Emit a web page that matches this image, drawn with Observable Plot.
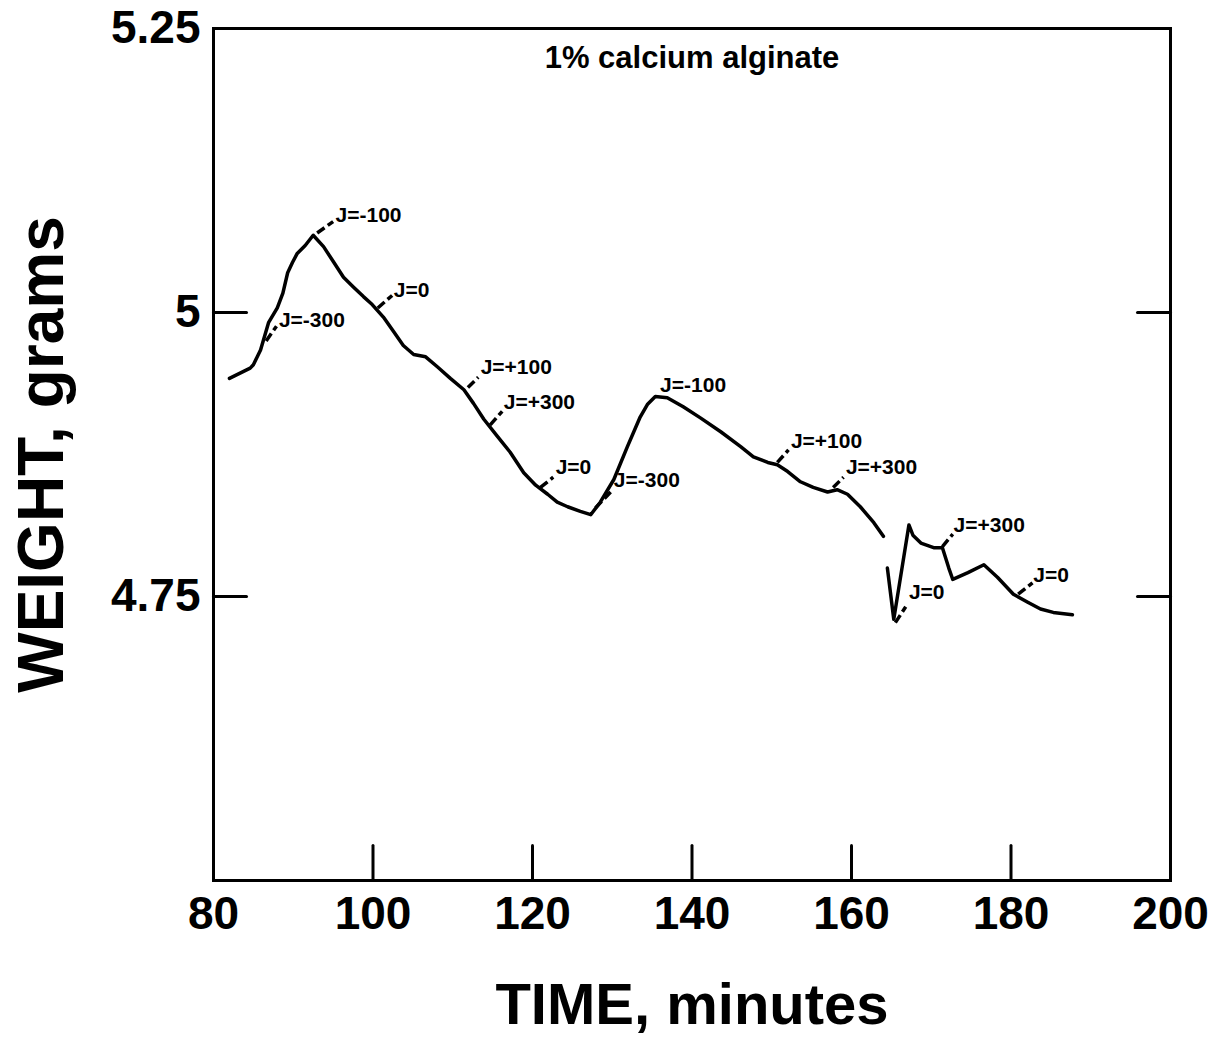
<!DOCTYPE html>
<html>
<head>
<meta charset="utf-8">
<script src="https://cdn.jsdelivr.net/npm/d3@7"></script>
<script src="https://cdn.jsdelivr.net/npm/@observablehq/plot@0.6"></script>
<style>
  html, body { margin: 0; padding: 0; background: #fff; }
  svg { display: block; }
</style>
</head>
<body>
<div id="chart"></div>
<script>
// ---- data ----
const seg1Time = [82.0, 84.6, 85.0, 85.9, 86.9, 88.0, 88.7, 89.3, 89.9, 90.5, 91.5, 92.5, 93.8, 95.1, 96.3, 97.6, 98.8, 99.9, 101.3, 102.6, 103.8, 105.1, 106.6, 108.1, 109.7, 111.4, 112.6, 113.9, 115.6, 117.2, 118.9, 120.4, 121.9, 123.1, 124.4, 126.0, 127.3, 128.5, 130.2, 131.9, 133.5, 134.4, 135.4, 136.9, 138.9, 141.1, 143.6, 146.1, 147.7, 149.5, 150.7, 152.0, 153.6, 155.2, 157.0, 158.2, 159.5, 161.1, 162.8, 164.0];
const seg1Weight = [4.942, 4.951, 4.954, 4.967, 4.991, 5.004, 5.017, 5.035, 5.044, 5.052, 5.059, 5.068, 5.058, 5.044, 5.031, 5.022, 5.014, 5.007, 4.996, 4.983, 4.971, 4.963, 4.961, 4.952, 4.942, 4.932, 4.920, 4.906, 4.891, 4.877, 4.859, 4.848, 4.840, 4.833, 4.829, 4.825, 4.822, 4.833, 4.853, 4.882, 4.908, 4.919, 4.926, 4.925, 4.917, 4.907, 4.895, 4.882, 4.873, 4.868, 4.866, 4.860, 4.851, 4.846, 4.842, 4.844, 4.840, 4.829, 4.815, 4.803];

const seg2Time = [164.5, 165.3, 167.2, 167.7, 168.7, 170.3, 171.4, 172.2, 172.7, 174.6, 176.6, 178.3, 180.3, 182.1, 183.7, 185.3, 187.7];
const seg2Weight = [4.775, 4.730, 4.813, 4.804, 4.797, 4.793, 4.793, 4.775, 4.765, 4.771, 4.778, 4.767, 4.752, 4.745, 4.739, 4.736, 4.734];

const labelText   = ["J=-300", "J=-100", "J=0", "J=+100", "J=+300", "J=0", "J=-300", "J=-100", "J=+100", "J=+300", "J=+300", "J=0", "J=0"];
const labelTime   = [88.2, 95.3, 102.6, 113.5, 116.4, 122.9, 130.2, 136.0, 152.4, 159.3, 172.8, 167.2, 182.8];
const labelWeight = [4.993, 5.086, 5.020, 4.952, 4.921, 4.864, 4.852, 4.936, 4.887, 4.864, 4.813, 4.754, 4.769];

const leaderTime1   = [86.6, 93.0, 100.6, 111.9, 114.7, 121.0, 127.9, 150.7, 157.7, 171.4, 165.5, 180.9];
const leaderWeight1 = [4.975, 5.070, 5.004, 4.934, 4.901, 4.846, 4.828, 4.868, 4.846, 4.794, 4.727, 4.752];
const leaderTime2   = [87.9, 95.0, 102.4, 113.2, 116.2, 122.6, 129.8, 152.1, 159.0, 172.7, 166.8, 182.7];
const leaderWeight2 = [4.988, 5.080, 5.015, 4.943, 4.913, 4.855, 4.842, 4.879, 4.855, 4.805, 4.741, 4.762];

const xTickValues = [80, 100, 120, 140, 160, 180, 200];
const xInnerTicks = [100, 120, 140, 160, 180];
const yTickValues = [5.25, 5, 4.75];
const yInnerTicks = [5, 4.75];

const title = "1% calcium alginate";
const xTitle = "TIME, minutes";
const yTitle = "WEIGHT, grams";

// ---- build tables ----
const curve = [
  ...seg1Time.map((t, i) => ({time: t, weight: seg1Weight[i], seg: 1})),
  ...seg2Time.map((t, i) => ({time: t, weight: seg2Weight[i], seg: 2}))
];
const labels = labelText.map((s, i) => ({text: s, time: labelTime[i], weight: labelWeight[i]}));
const leaders = leaderTime1.map((t, i) => ({t1: t, w1: leaderWeight1[i], t2: leaderTime2[i], w2: leaderWeight2[i]}));

const tickShape = {
  draw(context, length) {
    context.moveTo(0, 0);
    context.lineTo(0, -length);
  }
};

const FONT = "'Liberation Sans', Arial, Helvetica, sans-serif";

const chart = Plot.plot({
  width: 1217,
  height: 1043,
  marginTop: 28,
  marginRight: 47,
  marginBottom: 163,
  marginLeft: 213,
  style: {fontFamily: FONT, fontWeight: "bold", color: "#000", background: "#fff"},
  x: {domain: [80, 200]},
  y: {domain: [4.5, 5.25]},
  marks: [
    Plot.axisX(xTickValues, {tickSize: 0, tickPadding: 16, fontSize: 46, fontWeight: "bold", label: null, tickFormat: d => String(d)}),
    Plot.axisY(yTickValues, {tickSize: 0, tickPadding: 13, fontSize: 46, fontWeight: "bold", label: null, tickFormat: d => String(d)}),
    Plot.vector(xInnerTicks, {x: d => d, frameAnchor: "bottom", length: 35, rotate: 0, anchor: "start", shape: tickShape, stroke: "#000", strokeWidth: 3}),
    Plot.vector(yInnerTicks, {y: d => d, frameAnchor: "left", length: 33, rotate: 90, anchor: "start", shape: tickShape, stroke: "#000", strokeWidth: 3}),
    Plot.vector(yInnerTicks, {y: d => d, frameAnchor: "right", length: 33, rotate: -90, anchor: "start", shape: tickShape, stroke: "#000", strokeWidth: 3}),
    Plot.frame({stroke: "#000", strokeWidth: 3}),
    Plot.line(curve, {x: "time", y: "weight", z: "seg", stroke: "#000", strokeWidth: 3.5, strokeLinejoin: "round", strokeLinecap: "round"}),
    Plot.link(leaders, {x1: "t1", y1: "w1", x2: "t2", y2: "w2", stroke: "#000", strokeWidth: 3.5, strokeDasharray: "9,4"}),
    Plot.text(labels, {x: "time", y: "weight", text: "text", textAnchor: "start", lineAnchor: "middle", fontSize: 21, fontWeight: "bold", fill: "#000"}),
    Plot.text([title], {frameAnchor: "top", textAnchor: "middle", lineAnchor: "top", dy: 17, fontSize: 31, fontWeight: "bold", fill: "#000"}),
    Plot.text([xTitle], {frameAnchor: "bottom", textAnchor: "middle", lineAnchor: "bottom", dy: 143, fontSize: 58, fontWeight: "bold", fill: "#000"}),
    Plot.text([yTitle], {frameAnchor: "left", textAnchor: "middle", lineAnchor: "bottom", rotate: -90, dx: -151, fontSize: 64, fontWeight: "bold", fill: "#000"})
  ]
});
document.getElementById("chart").appendChild(chart);
</script>
</body>
</html>
